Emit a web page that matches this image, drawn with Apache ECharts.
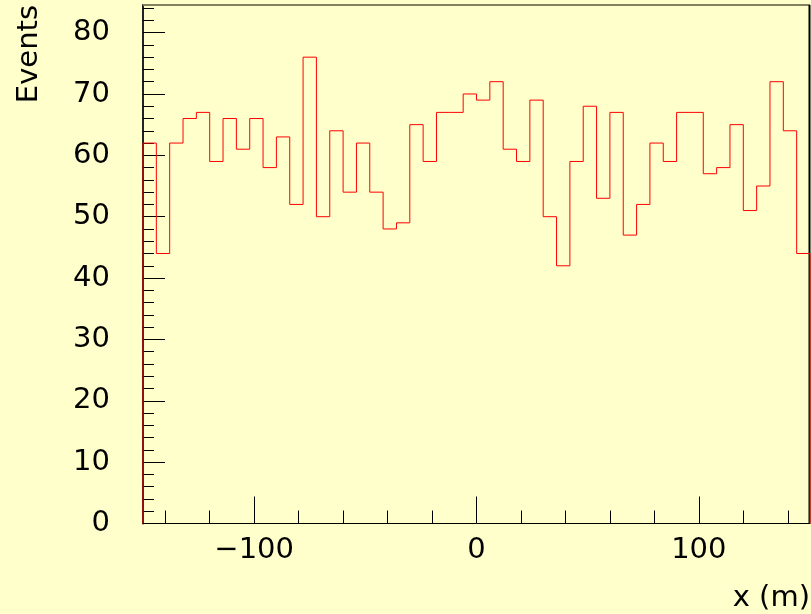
<!DOCTYPE html>
<html>
<head>
<meta charset="utf-8">
<script src="https://cdn.jsdelivr.net/npm/echarts@6/dist/echarts.min.js"></script>
<style>
  html, body { margin: 0; padding: 0; background: #ffffcc; }
  #chart { width: 811px; height: 614px; }
</style>
</head>
<body>
<div id="chart"></div>
<script>
// Histogram of event counts in 50 equal bins over x = -150 .. 150 m
const xRange = [-150, 150];
const counts = [
  62, 44, 62, 66, 67, 59, 66, 61, 66, 58,
  63, 52, 76, 50, 64, 54, 62, 54, 48, 49,
  65, 59, 67, 67, 70, 69, 72, 61, 59, 69,
  50, 42, 59, 68, 53, 67, 47, 52, 62, 59,
  67, 67, 57, 58, 65, 51, 55, 72, 64, 44
];
const yMax = 84.5;
const xMajorTicks = [-100, 0, 100];
const xMinorTicks = [-140, -120, -80, -60, -40, -20, 20, 40, 60, 80, 120, 140];
const yMajorTicks = [0, 10, 20, 30, 40, 50, 60, 70, 80];
const yMinorTicks = [];
for (let v = 2; v < yMax; v += 2) if (v % 10 !== 0) yMinorTicks.push(v);

// Outline of the histogram: rise at the first edge, step across each bin, drop at the last edge
const binWidth = (xRange[1] - xRange[0]) / counts.length;
const outline = [[xRange[0], 0]];
counts.forEach((c, i) => {
  const lo = xRange[0] + i * binWidth;
  outline.push([lo, c], [lo + binWidth, c]);
});
outline.push([xRange[1], 0]);

const FONT = '"DejaVu Sans", sans-serif';
const FS = 29;
const labelStyle = { color: '#000', fontFamily: FONT, fontSize: FS, fontWeight: 'normal' };

const chart = echarts.init(document.getElementById('chart'), null, { renderer: 'canvas' });
chart.setOption({
  backgroundColor: '#ffffcc',
  animation: false,
  grid: { left: 143, right: 1, top: 5, bottom: 90.5 },
  xAxis: [
    {
      type: 'value', min: xRange[0], max: xRange[1], position: 'bottom',
      axisLine: { show: true, onZero: false, lineStyle: { color: '#000', width: 1 } },
      axisTick: { show: true, inside: true, length: 27, customValues: xMajorTicks,
                  lineStyle: { color: '#000', width: 1 } },
      axisLabel: { ...labelStyle, margin: 12, customValues: xMajorTicks,
                   formatter: v => (v < 0 ? '\u2212' + Math.abs(v) : String(v)) },
      splitLine: { show: false }
    },
    {
      type: 'value', min: xRange[0], max: xRange[1], position: 'bottom', offset: 0,
      axisLine: { show: false, onZero: false },
      axisTick: { show: true, inside: true, length: 13, customValues: xMinorTicks,
                  lineStyle: { color: '#000', width: 1 } },
      axisLabel: { show: false },
      splitLine: { show: false }
    }
  ],
  yAxis: [
    {
      type: 'value', min: 0, max: yMax, position: 'left',
      axisLine: { show: true, onZero: false, lineStyle: { color: '#222', width: 2 } },
      axisTick: { show: true, inside: true, length: 22, customValues: yMajorTicks,
                  lineStyle: { color: '#000', width: 1 } },
      axisLabel: { ...labelStyle, margin: 33, customValues: yMajorTicks },
      splitLine: { show: false }
    },
    {
      type: 'value', min: 0, max: yMax, position: 'left', offset: 0,
      axisLine: { show: false, onZero: false },
      axisTick: { show: true, inside: true, length: 11, customValues: yMinorTicks,
                  lineStyle: { color: '#000', width: 1 } },
      axisLabel: { show: false },
      splitLine: { show: false }
    }
  ],
  series: [{
    type: 'line',
    xAxisIndex: 0, yAxisIndex: 0,
    data: outline,
    showSymbol: false,
    clip: false,
    lineStyle: { color: '#ff0000', width: 1 },
    z: 5
  }]
});

// Frame edges (top and right) and axis titles
const frameL = chart.convertToPixel({ xAxisIndex: 0 }, xRange[0]);
const frameR = chart.convertToPixel({ xAxisIndex: 0 }, xRange[1]);
const frameT = chart.convertToPixel({ yAxisIndex: 0 }, yMax);
const frameB = chart.convertToPixel({ yAxisIndex: 0 }, 0);
const titleFont = FS + 'px ' + FONT;
chart.setOption({
  graphic: [
    { type: 'line', z: 1, shape: { x1: frameL, y1: frameT, x2: frameR, y2: frameT },
      style: { stroke: '#80805f', lineWidth: 2 } },
    { type: 'line', z: 1, shape: { x1: frameR - 0.5, y1: frameT, x2: frameR - 0.5, y2: frameB },
      style: { stroke: '#000', lineWidth: 2 } },
    { type: 'text', z: 10, x: 29, y: frameT, rotation: Math.PI / 2,
      style: { text: 'Events', font: titleFont, fill: '#000',
               align: 'right', verticalAlign: 'middle' } },
    { type: 'text', z: 10, x: frameR, y: frameB + 89,
      style: { text: 'x (m)', font: titleFont, fill: '#000',
               align: 'right', verticalAlign: 'bottom' } }
  ]
});
</script>
</body>
</html>
